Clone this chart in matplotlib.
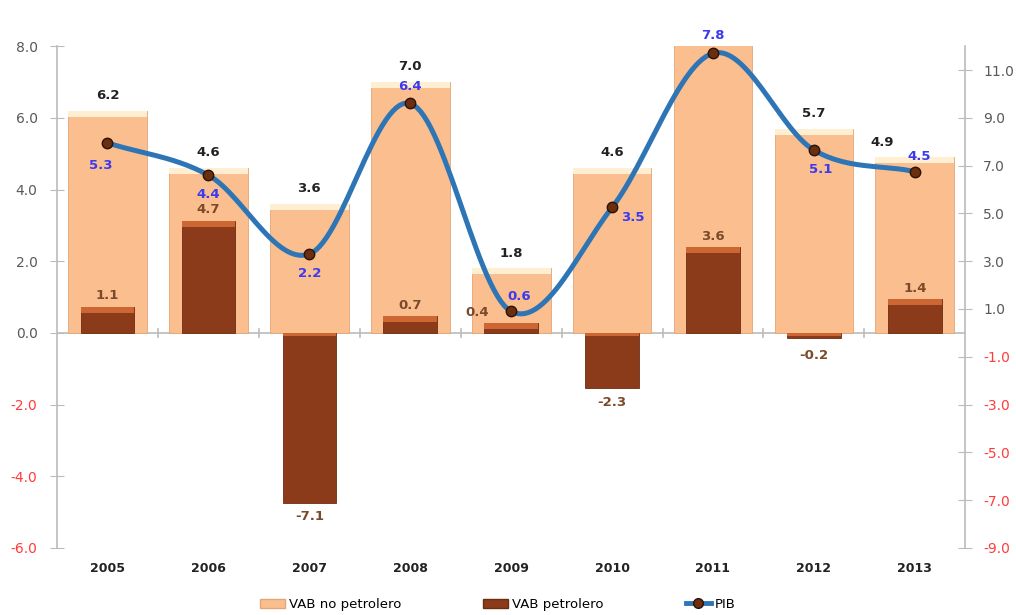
import numpy as np
import matplotlib
matplotlib.use("Agg")
import matplotlib.pyplot as plt
from matplotlib.patches import Patch
from matplotlib.lines import Line2D

years = ["2005", "2006", "2007", "2008", "2009", "2010", "2011", "2012", "2013"]
vab_no_petrolero = [6.2, 4.6, 3.6, 7.0, 1.8, 4.6, 8.2, 5.7, 4.9]
vab_petrolero = [1.1, 4.7, -7.1, 0.7, 0.4, -2.3, 3.6, -0.2, 1.4]
pib = [5.3, 4.4, 2.2, 6.4, 0.6, 3.5, 7.8, 5.1, 4.5]

# where each PIB label sits relative to its point (points offset)
pib_offsets = [(-5, -16), (0, -14), (0, -14), (0, 12), (6, 11), (15, -7), (0, 13), (5, -14), (3, 11)]

light = "#FBBE8E"
light_top = "#FFEFD2"
dark = "#8B3A1A"
dark_top = "#CC6633"
line_col = "#2E75B6"
gray = "#595959"
red = "#FF3B3B"


def catmull_rom(x, y, n=30):
    x = np.asarray(x, float)
    y = np.asarray(y, float)
    px = np.concatenate([[2 * x[0] - x[1]], x, [2 * x[-1] - x[-2]]])
    py = np.concatenate([[2 * y[0] - y[1]], y, [2 * y[-1] - y[-2]]])
    xs, ys = [], []
    t = np.linspace(0, 1, n)
    for i in range(1, len(px) - 2):
        for p, out in ((px, xs), (py, ys)):
            p0, p1, p2, p3 = p[i - 1], p[i], p[i + 1], p[i + 2]
            out.append(0.5 * ((2 * p1) + (-p0 + p2) * t
                              + (2 * p0 - 5 * p1 + 4 * p2 - p3) * t ** 2
                              + (-p0 + 3 * p1 - 3 * p2 + p3) * t ** 3))
    return np.concatenate(xs), np.concatenate(ys)


fig = plt.figure(figsize=(10.16, 6.15), dpi=100)
ax = fig.add_axes([0.0561, 0.109, 0.894, 0.816])
ax2 = ax.twinx()

x = np.arange(len(years))

# VAB no petrolero (left scale)
ax.bar(x, vab_no_petrolero, width=0.78, color=light, edgecolor="#E3A577", linewidth=0.6, zorder=2)
ax.bar(x, [0.17] * len(x), bottom=np.array(vab_no_petrolero) - 0.17, width=0.78,
       color=light_top, linewidth=0, zorder=3)
ax.set_ylim(-6, 8)
ax.set_xlim(-0.5, len(years) - 0.5)

for xi, v in zip(x, vab_no_petrolero):
    if v < 8:
        dx = -0.32 if xi == len(x) - 1 else 0
        ax.text(xi + dx, v + 0.42, f"{v:.1f}", ha="center", va="center", fontsize=9.5,
                fontweight="bold", color="#222222", zorder=6)

# VAB petrolero (right scale)
ax2.bar(x, vab_petrolero, width=0.53, color=dark, edgecolor="#6E2C12", linewidth=0.6, zorder=2)
strip = 0.25
tops = [v - strip if v > 0 else -strip * 0.6 for v in vab_petrolero]
ax2.bar(x, [strip if v > 0 else strip * 0.6 for v in vab_petrolero], bottom=tops, width=0.53,
        color=dark_top, linewidth=0, zorder=3)
ax2.set_ylim(-9, 12)

for xi, v in zip(x, vab_petrolero):
    if abs(v) < 0.5:
        if v > 0:
            ax2.text(xi - 0.34, v + 0.45, f"{v:.1f}", ha="center", va="center", fontsize=9.5,
                     fontweight="bold", color="#7A4A2A", zorder=6)
        else:
            ax2.text(xi, v - 0.75, f"{v:.1f}", ha="center", va="center", fontsize=9.5,
                     fontweight="bold", color="#7A4A2A", zorder=6)
    elif v > 0:
        ax2.text(xi, v + 0.45, f"{v:.1f}", ha="center", va="center", fontsize=9.5,
                 fontweight="bold", color="#7A4A2A", zorder=6)
    else:
        ax2.text(xi, v - 0.6, f"{v:.1f}", ha="center", va="center", fontsize=9.5,
                 fontweight="bold", color="#7A4A2A", zorder=6)

# PIB smooth line on the left scale, drawn above the bars
sx, sy = catmull_rom(x, pib)
ax2.plot(sx, sy, color=line_col, linewidth=3.6, transform=ax.transData, zorder=4,
         solid_capstyle="round")
ax2.plot(x, pib, "o", color="#6B2E0E", markeredgecolor="#2B1205", markersize=7.5,
         transform=ax.transData, zorder=5)
for xi, v, off in zip(x, pib, pib_offsets):
    ax2.annotate(f"{v:.1f}", (xi, v), xycoords=ax.transData, xytext=off,
                 textcoords="offset points", ha="center", va="center", fontsize=9.5,
                 fontweight="bold", color="#3A3AF0", zorder=6)

# axes styling
for a in (ax, ax2):
    for s in ("top", "bottom"):
        a.spines[s].set_visible(False)
    a.spines["left"].set_color("#BBBBBB")
    a.spines["right"].set_color("#BBBBBB")
    a.spines["left"].set_linewidth(1.2)
    a.spines["right"].set_linewidth(1.2)
ax.spines["right"].set_visible(False)
ax2.spines["left"].set_visible(False)

lt = np.arange(-6, 8.1, 2)
ax.set_yticks(lt)
ax.set_yticklabels([f"{t:.1f}" for t in lt])
ax.tick_params(axis="y", direction="inout", length=10, color="#BBBBBB", labelsize=10, pad=9)
for lab, t in zip(ax.get_yticklabels(), lt):
    lab.set_color(red if t < 0 else gray)

rt = np.arange(-9, 11.1, 2)
ax2.set_yticks(rt)
ax2.set_yticklabels([f"{t:.1f}" for t in rt])
ax2.tick_params(axis="y", direction="inout", length=10, color="#BBBBBB", labelsize=10, pad=8)
for lab, t in zip(ax2.get_yticklabels(), rt):
    lab.set_color(red if t < 0 else gray)

# category axis along zero, year labels below the plot
ax.axhline(0, color="#BBBBBB", linewidth=1.2, zorder=1)
for b in np.arange(0.5, len(years) - 0.5, 1):
    ax.plot([b, b], [-0.12, 0.12], color="#BBBBBB", linewidth=1.2, zorder=1)
ax.set_xticks(x)
ax.set_xticklabels(years, fontsize=9, fontweight="bold", color="#222222")
ax.tick_params(axis="x", length=0, pad=10)

handles = [
    Patch(facecolor=light, edgecolor="#E3A577"),
    Patch(facecolor=dark, edgecolor="#6E2C12"),
    Line2D([0], [0], color=line_col, linewidth=3.5, marker="o", markersize=7,
           markerfacecolor="#6B2E0E", markeredgecolor="#2B1205"),
]
fig.legend(handles, ["VAB no petrolero", "VAB petrolero", "PIB"], loc="center",
           bbox_to_anchor=(0.49, 0.017), ncol=3, frameon=False, fontsize=9.5,
           columnspacing=6.2, handlelength=1.9, handletextpad=0.3)

fig.savefig("out.png", dpi=100)
